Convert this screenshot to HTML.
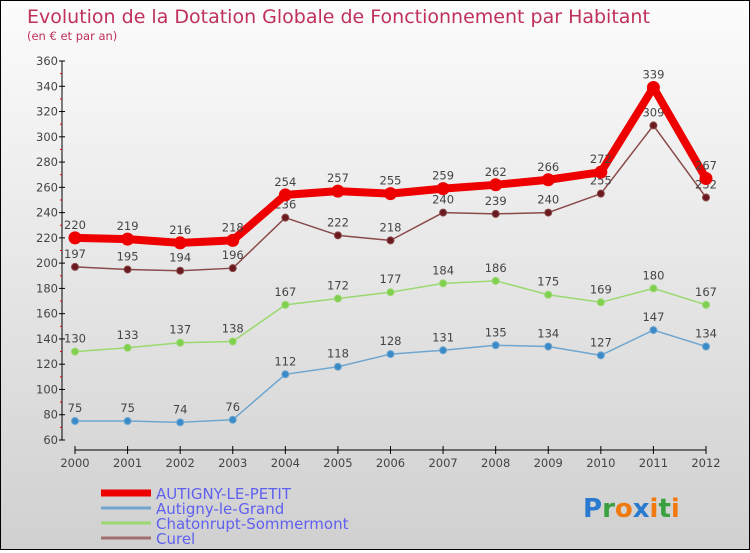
<!DOCTYPE html>
<html><head><meta charset="utf-8"><style>
body{margin:0}
#c{width:748px;height:548px;border:1px solid #000;background:linear-gradient(#fcfcfc,#d0d0d0);position:relative;font-family:"DejaVu Sans","Liberation Sans",sans-serif}
</style></head><body>
<div id="c">
<svg id="s" width="748" height="548"></svg>
</div>
<script>
const years=["2000","2001","2002","2003","2004","2005","2006","2007","2008","2009","2010","2011","2012"];
const petit=[220,219,216,218,254,257,255,259,262,266,272,339,267];
const grand=[75,75,74,76,112,118,128,131,135,134,127,147,134];
const chaton=[130,133,137,138,167,172,177,184,186,175,169,180,167];
const curel=[197,195,194,196,236,222,218,240,239,240,255,309,252];
const yTicks=[60,80,100,120,140,160,180,200,220,240,260,280,300,320,340,360];
const ns="http://www.w3.org/2000/svg",s=document.getElementById('s');
function X(i){return 74+i*(705-74)/12;}
function Y(v){return 439-(v-60)*(379/300);}
function el(t,a,p){const e=document.createElementNS(ns,t);for(const k in a)e.setAttribute(k,a[k]);(p||s).appendChild(e);return e;}
function tx(str,a){const e=el('text',a);e.textContent=str;return e;}
let t=tx("Evolution de la Dotation Globale de Fonctionnement par Habitant",{x:26,y:22,fill:"#c0305a","font-size":19});

t=tx("(en € et par an)",{x:26,y:39,fill:"#c0305a","font-size":11.5});

let a=el('line',{x1:61,y1:Y(360),x2:61,y2:Y(60),stroke:"#000"});

yTicks.forEach((v,i)=>{
 el('line',{x1:58,x2:64,y1:Y(v),y2:Y(v),stroke:"#000"});
 if(i<yTicks.length-1)el('line',{x1:59,x2:61,y1:Y(v+10),y2:Y(v+10),stroke:"#e00"});
 const l=tx(String(v),{x:57,y:Y(v)+4,"text-anchor":"end","font-size":11.5,fill:"#444"});
 
});
a=el('line',{x1:X(0),y1:449,x2:X(12),y2:449,stroke:"#000"});

years.forEach((y,i)=>{
 el('line',{x1:X(i),x2:X(i),y1:445,y2:453,stroke:"#000"});
 const l=tx(y,{x:X(i),y:466,"text-anchor":"middle","font-size":11.5,fill:"#444"});
 
});
function series(vals,color,dot,w,r,name){
 const g=el('g',{});
 
 el('polyline',{points:vals.map((v,i)=>X(i)+","+Y(v)).join(" "),fill:"none",stroke:color,"stroke-width":w,"stroke-linejoin":"round"},g);
 vals.forEach((v,i)=>{
  const c=el('circle',{cx:X(i),cy:Y(v),r:r,fill:dot,stroke:color,"stroke-width":1},g);
  
  const l=tx(String(v),{x:X(i),y:Y(v)-9,"text-anchor":"middle","font-size":11.5,fill:"#444"});
  
 });
}
series(grand,"#6fa6d0","#3a8ac8",1.5,3.5,"series-autigny-le-grand");
series(chaton,"#9ad870","#80d050",1.5,3.5,"series-chatonrupt");
series(curel,"#8a4a4a","#6a1a20",1.5,3.5,"series-curel");
series(petit,"#ee0000","#ee0000",8,6,"series-autigny-le-petit");
const leg=[["AUTIGNY-LE-PETIT","#ee0000",7],["Autigny-le-Grand","#6fa6d0",3],["Chatonrupt-Sommermont","#9ad870",3],["Curel","#a07070",3]];
leg.forEach((l,i)=>{
 const y=492+i*15;
 const g=el('g',{});
 el('line',{x1:100,x2:150,y1:y,y2:y,stroke:l[1],"stroke-width":l[2]},g);
 const t=el('text',{x:155,y:y+6,"font-size":15,fill:"#6060f0"},g);t.textContent=l[0];
});
const logo=el('text',{x:582,y:516,"font-size":26,"font-weight":"bold"});

[["P","#2a7ad0"],["r","#3aa040"],["o","#f07a10"],["x","#2a7ad0"],["i","#f07a10"],["t","#3aa040"],["i","#f07a10"]].forEach(p=>{const ts=el('tspan',{fill:p[1]},logo);ts.textContent=p[0];});
</script>
</body></html>
